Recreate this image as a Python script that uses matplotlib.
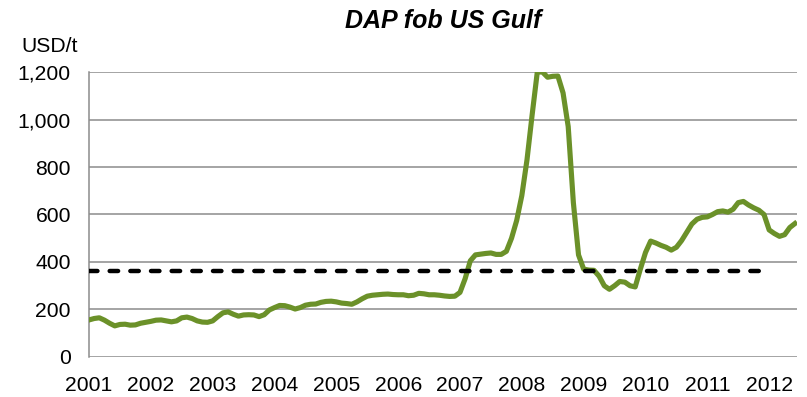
import numpy as np
import matplotlib.pyplot as plt
from matplotlib.ticker import FuncFormatter

#%%
# precio mensual DAP fob US Gulf (USD/t), enero 2001 - junio 2012
anios = ['2001', '2002', '2003', '2004', '2005', '2006',
         '2007', '2008', '2009', '2010', '2011', '2012']

precio_2001 = [156, 162, 165, 155, 142, 131, 137, 138, 134, 135, 142, 146]
precio_2002 = [150, 155, 156, 152, 148, 152, 165, 168, 162, 152, 147, 146]
precio_2003 = [152, 170, 186, 190, 180, 172, 177, 178, 177, 170, 178, 198]
precio_2004 = [208, 217, 216, 210, 202, 208, 218, 222, 223, 230, 234, 235]
precio_2005 = [232, 227, 225, 222, 232, 245, 256, 260, 262, 264, 265, 263]
precio_2006 = [262, 262, 258, 260, 268, 266, 262, 262, 260, 257, 255, 256]
precio_2007 = [272, 330, 405, 430, 433, 436, 438, 432, 432, 445, 500, 575]
precio_2008 = [680, 830, 1020, 1200, 1200, 1178, 1182, 1183, 1112, 970, 650, 430]
precio_2009 = [370, 366, 365, 340, 300, 285, 300, 318, 315, 300, 295, 370]
precio_2010 = [440, 488, 480, 470, 462, 450, 462, 490, 525, 560, 580, 588]
precio_2011 = [590, 600, 612, 615, 610, 622, 650, 655, 640, 628, 618, 600]
precio_2012 = [535, 520, 508, 515, 545, 562]

promedio = 362          # promedio 2001-2011
meses_promedio = 132    # largo de la linea de promedio

precio = np.array(precio_2001 + precio_2002 + precio_2003 + precio_2004 +
                  precio_2005 + precio_2006 + precio_2007 + precio_2008 +
                  precio_2009 + precio_2010 + precio_2011 + precio_2012)
meses = np.arange(len(precio))

#%%
plt.rcParams['font.family'] = ['Liberation Sans', 'DejaVu Sans']

fig = plt.figure(figsize=(8.07, 3.97), dpi=100)
ax = fig.add_axes([0.1103, 0.1008, 0.8773, 0.7178])

ax.plot(meses, precio, color='#6b9129', lw=3.7, solid_joinstyle='round',
        zorder=3)
ax.plot([0, meses_promedio - 0.6], [promedio, promedio], color='black',
        lw=3.2, dashes=(1.9, 2.75), dash_capstyle='round', zorder=4)

ax.set_xlim(0, 137.4)
ax.set_ylim(0, 1200)
ax.set_yticks(range(0, 1201, 200))
ax.yaxis.set_major_formatter(FuncFormatter(lambda v, p: f'{int(v):,}'))
ax.set_xticks(np.arange(0, len(anios) * 12, 12))
ax.set_xticklabels(anios)

# grilla gris, sin marcas de ticks
ax.grid(axis='y', color='#8c8c8c', lw=1.1)
ax.set_axisbelow(True)
for lado in ['top', 'right', 'bottom']:
    ax.spines[lado].set_visible(False)
ax.spines['left'].set_color('#8c8c8c')
ax.spines['left'].set_linewidth(1.1)
ax.tick_params(axis='both', length=0, labelsize=15.2, colors='black')
ax.tick_params(axis='y', pad=13)
ax.tick_params(axis='x', pad=13.5)

ax.set_title('DAP fob US Gulf', fontsize=18, fontweight='bold',
             fontstyle='italic', pad=32)
fig.text(0.027, 0.868, 'USD/t', fontsize=15.2, ha='left', va='baseline')

fig.savefig('out.png', dpi=100)
